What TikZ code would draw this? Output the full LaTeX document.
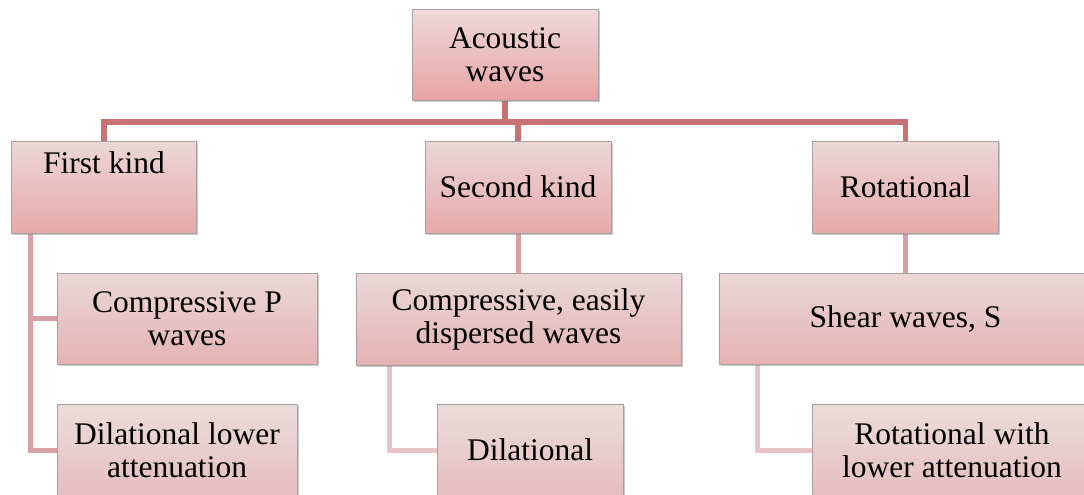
\documentclass[tikz,border=0pt]{standalone}
\usepackage{fontspec}
\setmainfont{Liberation Serif}
\usetikzlibrary{shadows,backgrounds}

\definecolor{barcol}{HTML}{C87275}
\definecolor{midcol}{HTML}{D9A0A4}
\definecolor{lowcol}{HTML}{E8C3C5}
\definecolor{boxedge}{HTML}{A8A0A0}
\definecolor{topA}{HTML}{EED9D9}
\definecolor{botA}{HTML}{E8A3A4}
\definecolor{topB}{HTML}{ECD7D7}
\definecolor{botB}{HTML}{E7A9AA}
\definecolor{topC}{HTML}{EBD8D8}
\definecolor{botC}{HTML}{E4B2B3}
\definecolor{topD}{HTML}{ECDCDC}
\definecolor{botD}{HTML}{E6BEBF}

\tikzset{
  every node/.style={font=\fontsize{31.5}{33}\selectfont, text=black},
  tbox/.style={draw=boxedge, line width=0.7pt, inner sep=0pt, outer sep=0pt,
    align=center, minimum height=91,
    drop shadow={shadow xshift=1.5pt, shadow yshift=-1.8pt, opacity=0.35, fill=black!60}},
  lvA/.style={tbox, top color=topA, bottom color=botA},
  lvB/.style={tbox, top color=topB, bottom color=botB},
  lvC/.style={tbox, top color=topC, bottom color=botC},
  lvD/.style={tbox, top color=topD, bottom color=botD},
  conA/.style={draw=barcol, line width=5.5pt, line join=miter},
  conB/.style={draw=midcol, line width=5pt, line join=miter},
  conC/.style={draw=lowcol, line width=5pt, line join=miter},
}

\begin{document}
\begin{tikzpicture}[x=1pt, y=-1pt]
  \useasboundingbox (0,0) rectangle (1084,495);
  \clip (0,0) rectangle (1084,495);

  % rails of the tree
  \coordinate (bar) at (0,122);
  \coordinate (railfirst) at (30.5,233);
  \coordinate (railsecond) at (389.5,365);
  \coordinate (railrot) at (757.5,364);

  % boxes
  \node[lvA, minimum width=186] (acoustic) at (505,55) {Acoustic\\waves};

  \node[lvB, minimum width=185, minimum height=92] (first) at (104,187)
    {\parbox[c][92pt][t]{180pt}{\centering\vspace{11pt}First kind}};
  \node[lvB, minimum width=186, minimum height=92] (second) at (518,187) {Second kind};
  \node[lvB, minimum width=186, minimum height=92] (rot) at (905.5,187) {Rotational};

  \node[lvC, minimum width=260] (comp) at (187,318.5) {Compressive P\\waves};
  \node[lvC, minimum width=325, minimum height=92] (easy) at (518.5,319) {Compressive, easily\\dispersed waves};
  \node[lvC, minimum width=373] (shear) at (905.5,318.5) {Shear waves, S};

  \node[lvD, minimum width=240, minimum height=92] (dilA) at (177,450) {Dilational lower\\attenuation};
  \node[lvD, minimum width=186, minimum height=92] (dilB) at (530,450) {Dilational};
  \node[lvD, minimum width=280, minimum height=92] (rotlow) at (952,450) {Rotational with\\lower attenuation};

  % connectors, kept behind the boxes
  \begin{pgfonlayer}{background}
    \draw[conA] (acoustic.south) -- (acoustic.south |- bar);
    \draw[conA] (first.north) -- (first.north |- bar) -- (rot.north |- bar) -- (rot.north);
    \draw[conA] (second.north |- bar) -- (second.north);

    \draw[conB] (railfirst) -- (railfirst |- dilA.west) -- (dilA.west);
    \draw[conB] (railfirst |- comp.west) -- (comp.west);
    \draw[conB] (second.south) -- (easy.north -| second.south);
    \draw[conB] (rot.south) -- (shear.north -| rot.south);

    \draw[conC] (railsecond) -- (railsecond |- dilB.west) -- (dilB.west);
    \draw[conC] (railrot) -- (railrot |- rotlow.west) -- (rotlow.west);
  \end{pgfonlayer}
\end{tikzpicture}
\end{document}
